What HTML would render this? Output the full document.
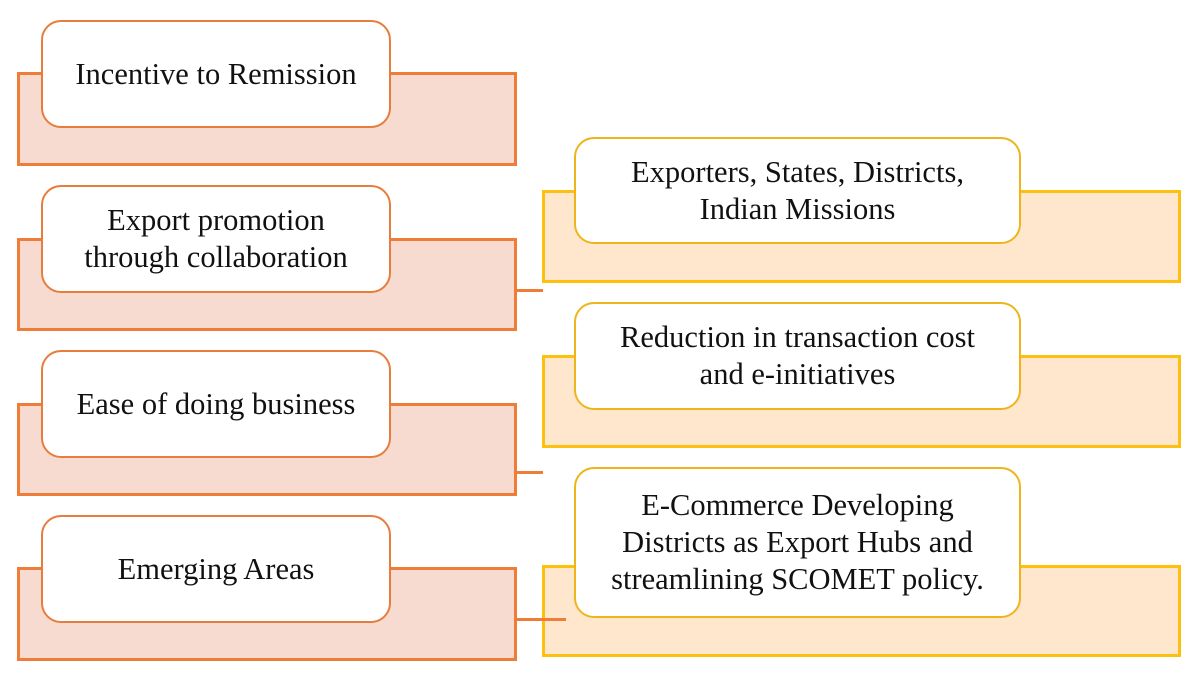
<!DOCTYPE html>
<html><head><style>
body{margin:0;width:1200px;height:675px;background:#fff;position:relative;overflow:hidden;font-family:"Liberation Serif",serif;}
.r{position:absolute;box-sizing:border-box;}
.lr{background:#f8dbd0;border:3px solid #ee7d3a;}
.yr{background:#fee7cc;border:3px solid #fdc00f;}
.lb{background:#fff;border:2.5px solid #e67d3c;border-radius:20px;display:flex;align-items:center;justify-content:center;text-align:center;font-size:30.5px;line-height:37px;color:#111;}
.yb{background:#fff;border:2.5px solid #eeb51b;border-radius:20px;display:flex;align-items:center;justify-content:center;text-align:center;font-size:30.5px;line-height:37px;color:#111;}
.c{position:absolute;height:3px;background:#ee7d3a;}
</style></head><body>
<div class="r lr" style="left:17px;top:72px;width:500px;height:94px"></div>
<div class="r lr" style="left:17px;top:238px;width:500px;height:93px"></div>
<div class="r lr" style="left:17px;top:403px;width:500px;height:93px"></div>
<div class="r lr" style="left:17px;top:567px;width:500px;height:94px"></div>
<div class="r yr" style="left:542px;top:190px;width:639px;height:93px"></div>
<div class="r yr" style="left:542px;top:355px;width:639px;height:93px"></div>
<div class="r yr" style="left:542px;top:565px;width:639px;height:92px"></div>
<div class="c" style="left:516px;top:289px;width:27px"></div>
<div class="c" style="left:516px;top:471px;width:27px"></div>
<div class="c" style="left:516px;top:618px;width:50px"></div>
<div class="r lb" style="left:41px;top:20px;width:350px;height:108px">Incentive to Remission</div>
<div class="r lb" style="left:41px;top:185px;width:350px;height:108px">Export promotion<br>through collaboration</div>
<div class="r lb" style="left:41px;top:350px;width:350px;height:108px">Ease of doing business</div>
<div class="r lb" style="left:41px;top:515px;width:350px;height:108px">Emerging Areas</div>
<div class="r yb" style="left:574px;top:137px;width:447px;height:107px">Exporters, States, Districts,<br>Indian Missions</div>
<div class="r yb" style="left:574px;top:302px;width:447px;height:108px">Reduction in transaction cost<br>and e-initiatives</div>
<div class="r yb" style="left:574px;top:467px;width:447px;height:151px">E-Commerce Developing<br>Districts as Export Hubs and<br>streamlining SCOMET policy.</div>
</body></html>
